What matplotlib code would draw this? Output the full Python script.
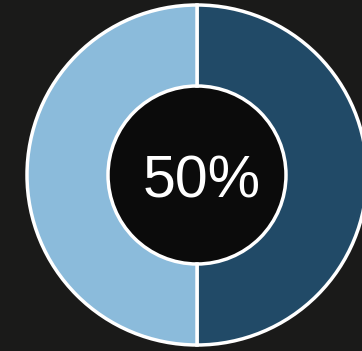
import matplotlib.pyplot as plt
from matplotlib.patches import Circle

shares = [50, 50]
colors = ['#214a67', '#8bbbdb']
label = f'{shares[0]}%'

W, H = 362, 351
cx, cy = 197, H - 175
r_out, r_in = 170, 89

fig = plt.figure(figsize=(W / 100, H / 100), dpi=100, facecolor='#1a1a19')
ax = fig.add_axes([0, 0, 1, 1])
ax.set_facecolor('#1a1a19')

ax.add_patch(Circle((cx, cy), r_in, color='#0b0b0b', zorder=0))
ax.pie(shares, colors=colors, startangle=90, counterclock=False,
       center=(cx, cy), radius=r_out,
       wedgeprops=dict(width=r_out - r_in, edgecolor='white', linewidth=2.5))
# baseline of the digits sits ~197 px from the top
ax.text(cx + 5, H - 197, label, color='white', fontsize=42.5,
        family='Liberation Sans', ha='center', va='baseline')

ax.set_xlim(0, W)
ax.set_ylim(0, H)
ax.set_aspect('equal')
ax.axis('off')

fig.savefig('out.png', dpi=100, facecolor=fig.get_facecolor())
